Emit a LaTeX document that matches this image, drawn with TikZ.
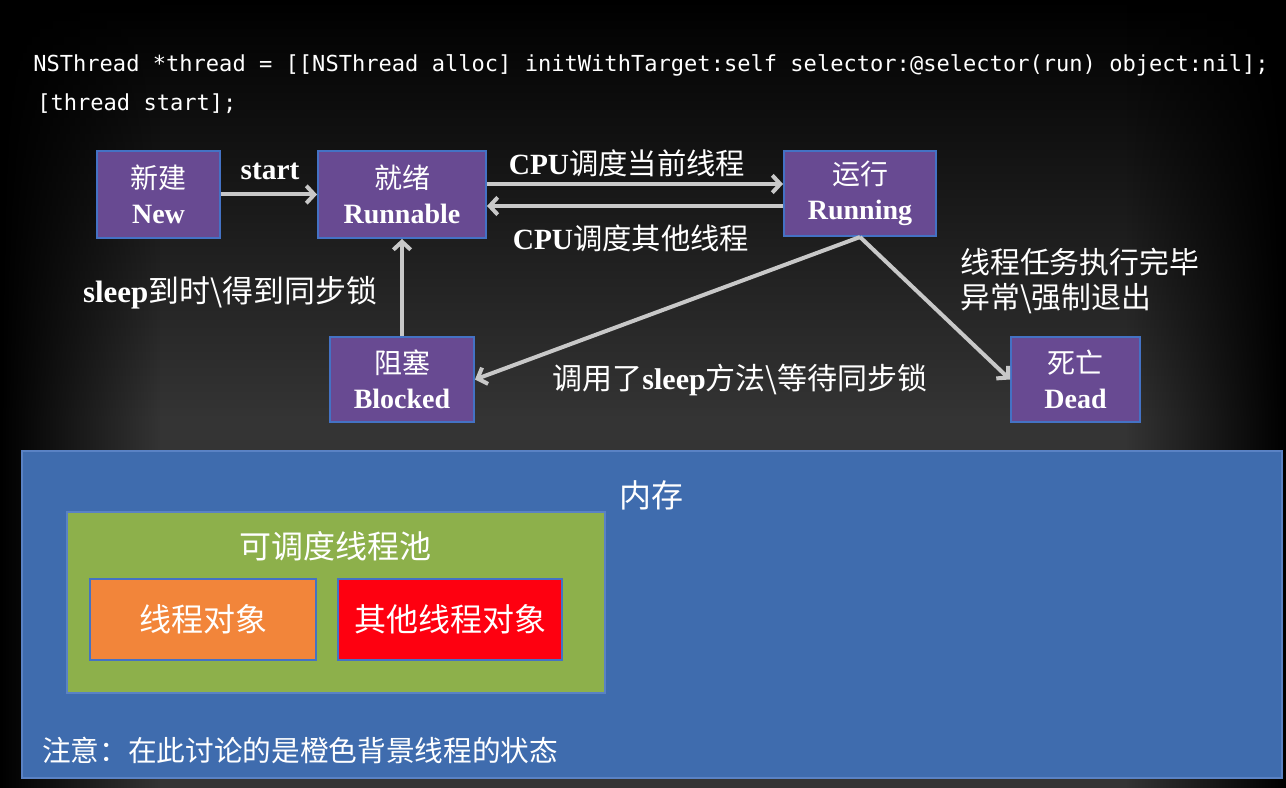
\documentclass[tikz,border=0pt]{standalone}
\usepackage{fontspec}
\setmainfont{Liberation Serif}
\newfontfamily\cjk{Noto Sans CJK SC}
\newfontfamily\codefont{DejaVu Sans Mono}
\newcommand\EN[1]{{\bfseries #1}}
\usetikzlibrary{arrows.meta,fadings}
\definecolor{boxpurple}{RGB}{104,74,146}
\definecolor{boxedge}{RGB}{68,114,196}
\definecolor{arrgray}{RGB}{200,200,200}
\definecolor{memblue}{RGB}{63,108,174}
\definecolor{memedge}{RGB}{90,130,196}
\definecolor{poolgreen}{RGB}{141,176,75}
\definecolor{objorange}{RGB}{242,133,58}
\definecolor{objred}{RGB}{254,0,16}
\definecolor{bgmid}{RGB}{52,52,52}
\tikzfading[name=fadeToRight, left color=transparent!0, right color=transparent!100]
\tikzfading[name=fadeToLeft, left color=transparent!100, right color=transparent!0]
\tikzset{
  box/.style={draw=boxedge, line width=1.5pt, fill=boxpurple, text=white, align=center, inner sep=0pt, font=\fontsize{21}{26}\selectfont},
  arr/.style={draw=arrgray, line width=3pt, -{Straight Barb[length=6pt,width=13pt]}},
  lab/.style={text=white, inner sep=0pt, font=\fontsize{22}{27}\selectfont},
  area/.style={inner sep=0pt, draw=boxedge, line width=1.2pt},
  big/.style={text=white, inner sep=0pt, font=\cjk\fontsize{24}{28}\selectfont},
  code/.style={text=white, inner sep=0pt, anchor=base west, font=\codefont\fontsize{16.55}{20}\selectfont}
}
\begin{document}
\begin{tikzpicture}[x=0.75pt,y=-0.75pt]
\shade[top color=black, bottom color=bgmid] (0,0) rectangle (1286,420);
\fill[bgmid] (0,420) rectangle (1286,788);
\fill[black, path fading=fadeToRight] (0,0) rectangle (160,788);
\fill[black, path fading=fadeToLeft] (1126,0) rectangle (1286,788);
\useasboundingbox (0,0) rectangle (1286,788);

% code
\node[code] (code1) at (33,72) {NSThread *thread = [[NSThread alloc] initWithTarget:self selector:@selector(run) object:nil];};
\node[code] (code2) at (37,111) {[thread start];};

% states
\node[box, minimum width=92.25pt, minimum height=65.25pt] (new) at (158.5,194.5) {{\cjk 新建}\\\EN{New}};
\node[box, minimum width=126pt, minimum height=65.25pt] (run) at (402,194.5) {{\cjk 就绪}\\\EN{Runnable}};
\node[box, minimum width=114pt, minimum height=63.75pt] (rung) at (860,193.5) {{\cjk 运行}\\\EN{Running}};
\node[box, minimum width=108pt, minimum height=63.75pt] (blk) at (402,379.5) {{\cjk 阻塞}\\\EN{Blocked}};
\node[box, minimum width=96.75pt, minimum height=63.75pt] (dead) at (1075.5,379.5) {{\cjk 死亡}\\\EN{Dead}};

% connectors
\coordinate (ya) at (0,184);
\coordinate (yb) at (0,206);
\draw[arr] (new) -- (run);
\draw[arr] (run.east |- ya) -- (rung.west |- ya);
\draw[arr] (rung.west |- yb) -- (run.east |- yb);
\draw[arr] (blk) -- (run);
\draw[arr] (rung.south) -- (blk.east);
\draw[arr] (rung.south) -- (dead.west);

% labels
\node[lab] (lstart) at (270,171) {\EN{start}};
\node[lab] (lcpu1) at (627,163) {\EN{CPU}{\cjk 调度当前线程}};
\node[lab] (lcpu2) at (631,238) {\EN{CPU}{\cjk 调度其他线程}};
\node[lab, font=\fontsize{23.2}{27}\selectfont] (lsleep1) at (230,293) {\EN{sleep}{\cjk 到时\textbackslash 得到同步锁}};
\node[lab, font=\fontsize{22.5}{27}\selectfont] (lsleep2) at (740,380) {{\cjk 调用了}\EN{sleep}{\cjk 方法\textbackslash 等待同步锁}};
\node[lab, align=left, anchor=west, font=\cjk\fontsize{22.4}{26.2}\selectfont] (ldead) at (960,281) {线程任务执行完毕\\异常\textbackslash 强制退出};

% memory area
\node[area, draw=memedge, fill=memblue, minimum width=945pt, minimum height=245.25pt] (mem) at (652,614.5) {};
\node[big] (memlab) at (651,495) {内存};
\node[area, draw=memedge, line width=0.8pt, fill=poolgreen, minimum width=403.5pt, minimum height=135.75pt] (pool) at (336,602.5) {};
\node[big] (poollab) at (335,546) {可调度线程池};
\node[area, fill=objorange, minimum width=169.5pt, minimum height=60.75pt, text=white, font=\cjk\fontsize{24}{28}\selectfont] (obj) at (203,619.5) {线程对象};
\node[area, fill=objred, minimum width=168pt, minimum height=60.75pt, text=white, font=\cjk\fontsize{24}{28}\selectfont] (other) at (450,619.5) {其他线程对象};
\node[big, anchor=west, font=\cjk\fontsize{21.5}{26}\selectfont] (note) at (42,750) {注意：在此讨论的是橙色背景线程的状态};
\end{tikzpicture}
\end{document}
